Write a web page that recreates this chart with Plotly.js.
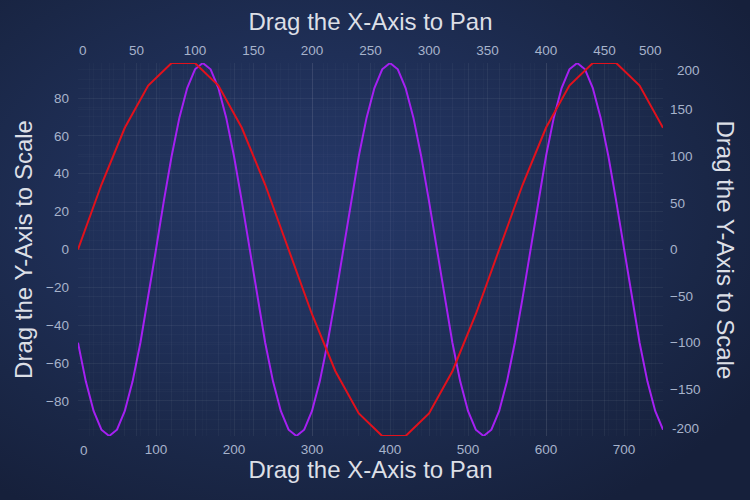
<!DOCTYPE html>
<html>
<head>
<meta charset="utf-8">
<script src="https://cdn.plot.ly/plotly-3.0.1.min.js"></script>
<style>
  html, body { margin: 0; padding: 0; }
  body {
    width: 750px; height: 500px; overflow: hidden;
    background: radial-gradient(ellipse 70% 70% at 42% 42%, #26396a 0%, #1f2f57 45%, #1a2747 75%, #16203b 100%);
  }
  #chart { width: 750px; height: 500px; }
</style>
</head>
<body>
<div id="chart"></div>
<script>
// Red series (top X axis, left Y axis)
const redX = [0, 20, 40, 60, 80, 100, 120, 140, 160, 180, 200, 220, 240, 260, 280, 300, 320, 340, 360, 380, 400, 420, 440, 460, 480, 500];
const redY = [0, 34.2, 64.3, 86.6, 98.5, 98.5, 86.6, 64.3, 34.2, 0, -34.2, -64.3, -86.6, -98.5, -98.5, -86.6, -64.3, -34.2, 0, 34.2, 64.3, 86.6, 98.5, 98.5, 86.6, 64.3];

// Purple series (bottom X axis, right Y axis)
const purpleX = [0, 10, 20, 30, 40, 50, 60, 70, 80, 90, 100, 110, 120, 130, 140, 150, 160, 170, 180, 190,
  200, 210, 220, 230, 240, 250, 260, 270, 280, 290, 300, 310, 320, 330, 340, 350, 360, 370, 380, 390,
  400, 410, 420, 430, 440, 450, 460, 470, 480, 490, 500, 510, 520, 530, 540, 550, 560, 570, 580, 590,
  600, 610, 620, 630, 640, 650, 660, 670, 680, 690, 700, 710, 720, 730, 740, 750];
const purpleY = [-100, -141.4, -173.2, -193.2, -200, -193.2, -173.2, -141.4, -100, -51.8,
  0, 51.8, 100, 141.4, 173.2, 193.2, 200, 193.2, 173.2, 141.4,
  100, 51.8, 0, -51.8, -100, -141.4, -173.2, -193.2, -200, -193.2,
  -173.2, -141.4, -100, -51.8, 0, 51.8, 100, 141.4, 173.2, 193.2,
  200, 193.2, 173.2, 141.4, 100, 51.8, 0, -51.8, -100, -141.4,
  -173.2, -193.2, -200, -193.2, -173.2, -141.4, -100, -51.8, 0, 51.8,
  100, 141.4, 173.2, 193.2, 200, 193.2, 173.2, 141.4, 100, 51.8,
  0, -51.8, -100, -141.4, -173.2, -193.2];

// Tick values (interior ticks on the axes; edge ticks drawn as labels nudged inside, like the original)
const topTicks = [50, 100, 150, 200, 250, 300, 350, 400, 450];
const topEdgeTicks = [0, 500];
const bottomTicks = [100, 200, 300, 400, 500, 600, 700];
const bottomEdgeTicks = [0];
const leftTicks = [-80, -60, -40, -20, 0, 20, 40, 60, 80];
const rightTicks = [-150, -100, -50, 0, 50, 100, 150];
const rightEdgeTicks = [-200, 200];

// Axis titles
const xTitle = "Drag the X-Axis to Pan";
const yTitle = "Drag the Y-Axis to Scale";

const tickColor = "#a7b3cb";
const titleColor = "#dcdfe6";
const fontFam = "Liberation Sans, Arial, sans-serif";
const tickFont = { family: fontFam, size: 13.5, color: tickColor };
const titleFont = { family: fontFam, size: 24, color: titleColor };
const gridMajor = "rgba(255,255,255,0.04)";
const gridMinor = "rgba(255,255,255,0.02)";

const traces = [
  { x: redX, y: redY, xaxis: "x2", yaxis: "y", mode: "lines",
    line: { color: "#e2111c", width: 2 }, hoverinfo: "skip" },
  { x: purpleX, y: purpleY, xaxis: "x", yaxis: "y2", mode: "lines",
    line: { color: "#a51ff2", width: 2 }, hoverinfo: "skip" }
];

const axisCommon = {
  ticks: "", showline: false, zeroline: false,
  tickfont: tickFont, fixedrange: true, tickmode: "array"
};

const annotations = [{
  text: yTitle, xref: "paper", yref: "paper", x: 1.106, y: 0.5,
  xanchor: "center", yanchor: "middle", showarrow: false, textangle: 90,
  font: titleFont
}];
topEdgeTicks.forEach((v, i) => annotations.push({
  text: String(v), xref: "x2", x: v, yref: "paper", y: 1, yshift: 13,
  xanchor: i === 0 ? "left" : "right", xshift: i === 0 ? 1 : -1, yanchor: "middle",
  showarrow: false, font: tickFont, borderpad: 0, borderwidth: 0
}));
bottomEdgeTicks.forEach(v => annotations.push({
  text: String(v), xref: "x", x: v, yref: "paper", y: 0, yshift: -14,
  xanchor: "left", xshift: 2, yanchor: "middle",
  showarrow: false, font: tickFont, borderpad: 0, borderwidth: 0
}));
rightEdgeTicks.forEach(v => annotations.push({
  text: String(v), xref: "paper", x: 1, xshift: v < 0 ? 9 : 14, yref: "y2", y: v,
  xanchor: "left", yanchor: v < 0 ? "bottom" : "top",
  showarrow: false, font: tickFont, borderpad: 0, borderwidth: 0
}));

const layout = {
  width: 750, height: 500,
  margin: { l: 78, r: 87, t: 63, b: 64, pad: 0 },
  paper_bgcolor: "rgba(0,0,0,0)",
  plot_bgcolor: "rgba(0,0,0,0)",
  showlegend: false,
  xaxis: Object.assign({}, axisCommon, {
    side: "bottom", anchor: "y",
    range: [Math.min(...purpleX), Math.max(...purpleX)],
    tickvals: bottomTicks, ticklabelstandoff: 3,
    showgrid: true, gridcolor: gridMajor, gridwidth: 1,
    minor: { tickmode: "linear", tick0: 0, dtick: 20, showgrid: true, gridcolor: gridMinor },
    title: { text: xTitle, standoff: 2, font: titleFont }
  }),
  xaxis2: Object.assign({}, axisCommon, {
    side: "top", overlaying: "x", anchor: "y",
    range: [Math.min(...redX), Math.max(...redX)],
    tickvals: topTicks, ticklabelstandoff: 4,
    showgrid: true, gridcolor: gridMajor, gridwidth: 1,
    minor: { tickmode: "linear", tick0: 0, dtick: 10, showgrid: true, gridcolor: gridMinor },
    title: { text: xTitle, standoff: 5, font: titleFont }
  }),
  yaxis: Object.assign({}, axisCommon, {
    side: "left", anchor: "x",
    range: [Math.min(...redY), Math.max(...redY)],
    tickvals: leftTicks, ticklabelstandoff: 8,
    showgrid: true, gridcolor: gridMajor, gridwidth: 1,
    minor: { tickmode: "linear", tick0: 0, dtick: 5, showgrid: true, gridcolor: gridMinor },
    title: { text: yTitle, standoff: 6, font: titleFont }
  }),
  yaxis2: Object.assign({}, axisCommon, {
    side: "right", overlaying: "y", anchor: "x",
    range: [Math.min(...purpleY), Math.max(...purpleY)],
    tickvals: rightTicks, ticklabelstandoff: 6,
    showgrid: true, gridcolor: gridMinor, gridwidth: 1
  }),
  annotations: annotations
};

Plotly.newPlot("chart", traces, layout, { displayModeBar: false, staticPlot: true });
</script>
</body>
</html>
